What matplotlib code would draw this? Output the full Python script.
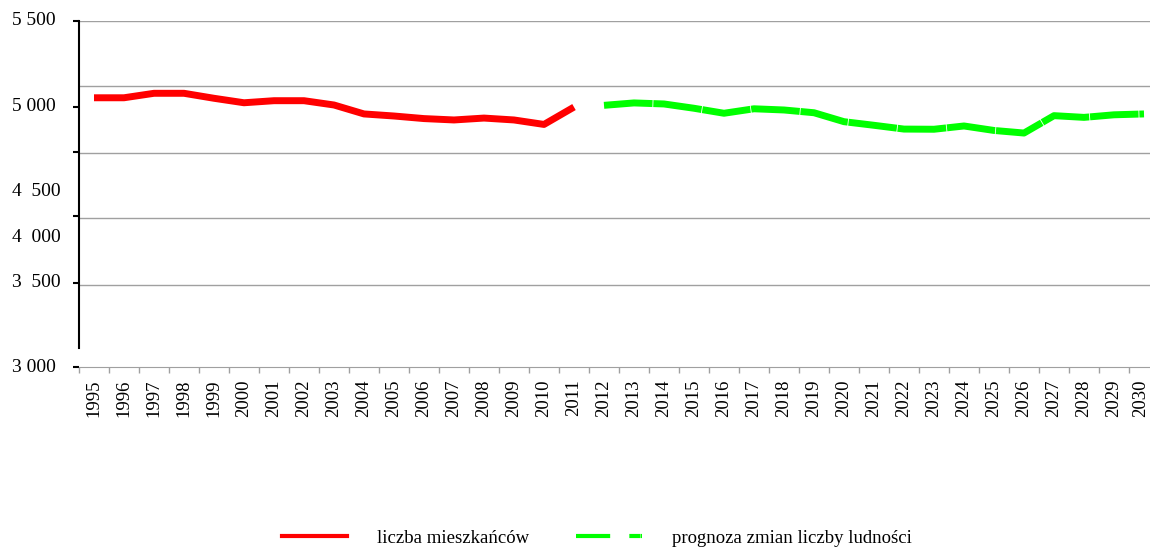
import matplotlib
matplotlib.use('Agg')
import matplotlib.pyplot as plt
import matplotlib.transforms as mtransforms
from matplotlib.lines import Line2D

plt.rcParams['font.family'] = ['Liberation Serif', 'DejaVu Serif']

years = list(range(1995, 2031))
lata_mieszk = list(range(1995, 2012))
mieszkancy = [5052, 5052, 5078, 5078, 5049, 5023, 5035, 5035, 5010, 4958,
              4946, 4931, 4923, 4934, 4923, 4897, 4998]
lata_prog = list(range(2012, 2031))
prognoza = [5008, 5022, 5016, 4991, 4962, 4988, 4981, 4965, 4913, 4892,
            4870, 4869, 4888, 4862, 4847, 4948, 4938, 4953, 4958]

# y-axis as drawn in the source (uneven labels)
tick_vals = [5500, 5000, 4738, 4364, 3977, 3487]
label_vals = [5500, 5000, 4510, 4242, 3977, 3487]
label_txt = ['5 500', '5 000', '4  500', '4  000', '3  500', '3 000']
grid_vals = [5120, 4733, 4355, 3963]

fig = plt.figure(figsize=(11.5, 5.47), dpi=100)
ax = fig.add_axes([79/1150, 1 - 367/547, 1 - 79/1150, (367 - 20.7)/547])

x1 = [y - 1995 for y in lata_mieszk]
x2 = [y - 1995 for y in lata_prog]
ax.plot(x1, mieszkancy, color='#ff0000', lw=5, solid_joinstyle='round',
        solid_capstyle='butt', zorder=3)
ax.plot(x2, prognoza, color='#00ff00', lw=5, dashes=(7, 0.12),
        dash_joinstyle='round', dash_capstyle='butt', zorder=3)

ax.set_xlim(-0.5, 35.2)
ax.set_ylim(3487, 5500)

for g in grid_vals + [5500]:
    ax.axhline(g, color='#a0a0a0', lw=1, zorder=1)

for s in ['top', 'right']:
    ax.spines[s].set_visible(False)
ax.spines['bottom'].set_color('#a0a0a0')
ax.spines['left'].set_color('black')
ax.spines['left'].set_linewidth(1.5)
ax.spines['left'].set_bounds(3597, 5500)

ax.set_yticks(tick_vals)
ax.set_yticklabels([])
ax.tick_params(axis='y', length=4.5, width=1.5, color='black')

tr = mtransforms.blended_transform_factory(fig.transFigure, ax.transData)
for v, t in zip(label_vals, label_txt):
    ax.text(12/1150, v, t, transform=tr, ha='left', va='center',
            fontsize=14, clip_on=False)

ax.set_xticks([i - 0.5 for i in range(36)])
ax.set_xticklabels([])
ax.tick_params(axis='x', which='major', length=4, width=1, color='#a0a0a0')
ax.set_xticks(range(len(years)), minor=True)
labs = ax.set_xticklabels([str(y) for y in years], minor=True, rotation=90,
                          fontsize=13.5)
ax.tick_params(axis='x', which='minor', length=0, pad=9)
# last label squeezed in at the right edge, like the source
labs[-1].set_transform(labs[-1].get_transform() +
                       mtransforms.ScaledTranslation(-3/100, 0, fig.dpi_scale_trans))

h1 = Line2D([], [], color='#ff0000', lw=3)
h2 = Line2D([], [], color='#00ff00', lw=3, dashes=(8.2, 4.6, 2.6, 0.1))
fig.legend([h1, h2], ['liczba mieszkańców', 'prognoza zmian liczby ludności'],
           loc='center', bbox_to_anchor=(0.519, 0.0165), ncol=2, frameon=False,
           fontsize=13.5, handlelength=3.5, handletextpad=1.6, columnspacing=2.5,
           borderpad=0)

fig.savefig('out.png', dpi=100)
